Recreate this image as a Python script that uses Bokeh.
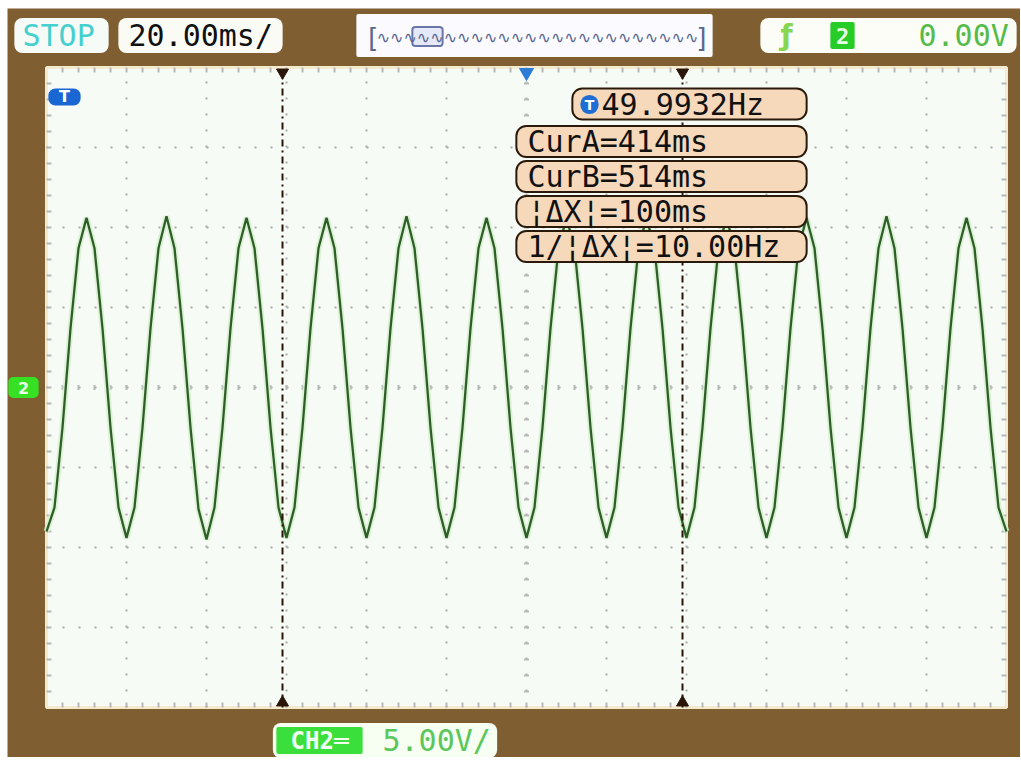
from bokeh.plotting import figure
from bokeh.models import Range1d, Label, ColumnDataSource
from bokeh.embed import file_html
from bokeh.resources import INLINE

# ---------------- data ----------------
time_start_ms, time_end_ms = 355, 595          # 12 divisions x 20 ms
volt_min, volt_max = -20.0, 20.0               # 8 divisions x 5 V
div_times_ms = [375, 395, 415, 435, 455, 475, 495, 515, 535, 555, 575]
div_volts = [-15, -10, -5, 0, 5, 10, 15]

t_ms = list(range(355, 596, 2))
ch2_volts = [
    -9.0, -7.5, -2.5, 3.7, 8.7, 10.6, 8.7, 3.7, -2.5, -7.5,
    -9.4, -7.5, -2.5, 3.7, 8.7, 10.7, 8.7, 3.7, -2.5, -7.6,
    -9.5, -7.5, -2.5, 3.7, 8.7, 10.6, 8.7, 3.7, -2.5, -7.5,
    -9.4, -7.5, -2.5, 3.7, 8.7, 10.6, 8.7, 3.7, -2.5, -7.5,
    -9.4, -7.5, -2.5, 3.7, 8.7, 10.7, 8.7, 3.7, -2.5, -7.5,
    -9.4, -7.5, -2.5, 3.7, 8.7, 10.6, 8.7, 3.7, -2.5, -7.5,
    -9.4, -7.5, -2.5, 3.7, 8.7, 10.6, 8.7, 3.7, -2.5, -7.5,
    -9.4, -7.5, -2.5, 3.7, 8.7, 10.6, 8.7, 3.7, -2.5, -7.5,
    -9.4, -7.5, -2.5, 3.7, 8.7, 10.6, 8.7, 3.7, -2.5, -7.5,
    -9.4, -7.5, -2.5, 3.7, 8.7, 10.6, 8.7, 3.7, -2.5, -7.5,
    -9.4, -7.5, -2.5, 3.7, 8.7, 10.7, 8.7, 3.7, -2.5, -7.5,
    -9.4, -7.5, -2.5, 3.7, 8.7, 10.6, 8.7, 3.7, -2.5, -7.5,
    -9.0,
]
cursor_ms = [414, 514]
trigger_pos_ms = [475]

status_text = "STOP"
timebase_text = "20.00ms/"
trigger_level_text = "0.00V"
trigger_channel = "2"
ch_scale_text = "5.00V/"
freq_text = "49.9932Hz"
readouts = ["CurA=414ms", "CurB=514ms", "¦ΔX¦=100ms", "1/¦ΔX¦=10.00Hz"]

# ---------------- layout (page pixels) ----------------
FIG_X0, FIG_Y0, W, H = 7, 8, 1013, 749
SX0, SX1, SY0, SY1 = 46, 1006, 67, 707          # scope screen on the page
ms_per_px = (time_end_ms - time_start_ms) / (SX1 - SX0)
v_per_px = (volt_max - volt_min) / (SY1 - SY0)
x_lo = time_start_ms - (SX0 - FIG_X0) * ms_per_px
x_hi = time_end_ms + (FIG_X0 + W - SX1) * ms_per_px
y_hi = volt_max + (SY0 - FIG_Y0) * v_per_px
y_lo = volt_min - (FIG_Y0 + H - SY1) * v_per_px

BROWN = "#7F5E31"
p = figure(width=W, height=H, margin=(FIG_Y0, 0, 0, FIG_X0),
           x_range=Range1d(x_lo, x_hi), y_range=Range1d(y_lo, y_hi),
           x_axis_type=None, y_axis_type=None,
           output_backend="svg", toolbar_location=None, tools="",
           min_border=0, min_border_left=0, min_border_right=0,
           min_border_top=0, min_border_bottom=0,
           background_fill_color=BROWN, border_fill_color=BROWN,
           outline_line_color=None)

# scope screen
p.quad(left=[time_start_ms], right=[time_end_ms], bottom=[volt_min], top=[volt_max],
       fill_color="#F7FBF6", line_color="#F3EACF", line_width=3)

# dotted graticule
grid_style = dict(line_color="#ABABAB", line_width=2, line_dash="2 14")
p.segment(x0=div_times_ms, y0=[volt_min] * len(div_times_ms),
          x1=div_times_ms, y1=[volt_max] * len(div_times_ms), **grid_style)
p.segment(x0=[time_start_ms] * len(div_volts), y0=div_volts,
          x1=[time_end_ms] * len(div_volts), y1=div_volts, **grid_style)

# small ticks along the edges and the centre cross (every 1/5 division)
minor_t = [time_start_ms + 4 * k for k in range(1, 60)]
minor_v = [volt_min + 1 * k for k in range(1, 40)]
tick_len_t = 5 * v_per_px
tick_len_v = 5 * ms_per_px
tick_style = dict(line_color="#B8B8B8", line_width=2)
t_mid = (time_start_ms + time_end_ms) / 2
for yb in (volt_min, volt_max - tick_len_t):
    p.segment(x0=minor_t, y0=[yb] * len(minor_t), x1=minor_t,
              y1=[yb + tick_len_t] * len(minor_t), **tick_style)
p.segment(x0=minor_t, y0=[-tick_len_t / 2] * len(minor_t), x1=minor_t,
          y1=[tick_len_t / 2] * len(minor_t), **tick_style)
for xb in (time_start_ms, time_end_ms - tick_len_v):
    p.segment(x0=[xb] * len(minor_v), y0=minor_v, x1=[xb + tick_len_v] * len(minor_v),
              y1=minor_v, **tick_style)
p.segment(x0=[t_mid - tick_len_v / 2] * len(minor_v), y0=minor_v,
          x1=[t_mid + tick_len_v / 2] * len(minor_v), y1=minor_v, **tick_style)

# waveform
src = ColumnDataSource(dict(t=t_ms, v=ch2_volts))
p.line("t", "v", source=src, line_color="#D3F0CC", line_width=6, line_alpha=0.8)
p.line("t", "v", source=src, line_color="#2E5F28", line_width=2.3)

# cursors
p.segment(x0=cursor_ms, y0=[volt_min] * 2, x1=cursor_ms, y1=[volt_max] * 2,
          line_color="#2A1508", line_width=2, line_dash="7 4 2 4")
top_y = volt_max - 5 * v_per_px
bot_y = volt_min + 5 * v_per_px
p.scatter(cursor_ms, [top_y] * 2, marker="inverted_triangle", size=12,
          fill_color="#2A1508", line_color="#2A1508")
p.scatter(cursor_ms, [bot_y] * 2, marker="triangle", size=12,
          fill_color="#2A1508", line_color="#2A1508")
p.scatter(trigger_pos_ms, [top_y], marker="inverted_triangle", size=14,
          fill_color="#2C7BD6", line_color="#2C7BD6")

# ---------------- annotations (page pixel helpers) ----------------
FB = FIG_Y0 + H   # canvas bottom on the page


def box(x0, y0, x1, y1, fill, line=None, lw=0, r=8):
    w, h = x1 - x0, y1 - y0
    p.add_layout(Label(x=(x0 + x1) / 2 - FIG_X0, y=FB - (y0 + y1) / 2,
                       x_units="screen", y_units="screen", text=" ",
                       text_font_size="1px", text_align="center", text_baseline="middle",
                       background_fill_color=fill, border_line_color=line,
                       border_line_width=lw, border_radius=r,
                       padding=(w // 2, w // 2, h // 2, h // 2)))


texts = []


def txt(x, y, s, size, color, font="DejaVu Sans Mono", style="normal", align="left"):
    texts.append(Label(x=x - FIG_X0, y=FB - y, x_units="screen", y_units="screen",
                       text=s, text_font=font, text_font_size=f"{size}px",
                       text_font_style=style, text_color=color,
                       text_align=align, text_baseline="middle"))


# top bar
box(14, 18, 108, 52, "#F6FBF8", r=8)
txt(22, 35, status_text, 30, "#45CFCF")
box(118, 18, 282, 52, "#FBFBF6", r=8)
txt(128, 35, timebase_text, 30, "#101010")
box(356, 14, 712, 56, "#FAFAFF", r=2)
box(412, 27, 442, 45, "#E4E8F8", line="#6A76A8", lw=2, r=3)
txt(537, 37, "∿" * 24, 16, "#5A6890", font="DejaVu Sans", align="center")
txt(364, 37, "[", 26, "#5A6890")
txt(694, 37, "]", 26, "#5A6890")
box(760, 18, 1016, 52, "#FBFDF6", r=8)
txt(786, 35, "ƒ", 28, "#86D650", font="DejaVu Sans", style="bold", align="center")
box(830, 22, 854, 48, "#27CC27", r=2)
txt(842, 35, trigger_channel, 22, "#E6FFE6", style="bold", align="center")
txt(918, 35, trigger_level_text, 30, "#55BB4A")

# bottom bar
box(272, 723, 497, 757, "#F6FFF2", r=8)
box(276, 727, 362, 753, "#3BDF3B", r=2)
txt(319, 740, "CH2═", 24, "#F0FFF0", style="bold", align="center")
txt(382, 740, ch_scale_text, 30, "#5BC65B")

# left markers
box(48, 88, 80, 105, "#1A66D2", r=7)
txt(64, 96, "T", 16, "#FFFFFF", font="DejaVu Sans", style="bold", align="center")
box(8, 377, 38, 397, "#36E022", r=5)
txt(23, 387, trigger_channel, 16, "#E8FFE8", font="DejaVu Sans", style="bold", align="center")

# measurement readouts
PEACH, EDGE = "#F6D8BA", "#2A1A0C"
box(572, 88, 806, 119, PEACH, line=EDGE, lw=2, r=10)
box(580, 95, 598, 113, "#1E6ED6", r=9)
txt(589, 104, "T", 14, "#FFFFFF", font="DejaVu Sans", style="bold", align="center")
txt(601, 104, freq_text, 30, "#111111")
row_tops = [126, 161, 196, 231]
for top, s in zip(row_tops, readouts):
    box(516, top, 806, top + 30, PEACH, line=EDGE, lw=2, r=10)
    txt(527, top + 15, s, 30, "#111111")

for lab in texts:
    p.add_layout(lab)

open("out.html", "w").write(file_html(p, INLINE))
